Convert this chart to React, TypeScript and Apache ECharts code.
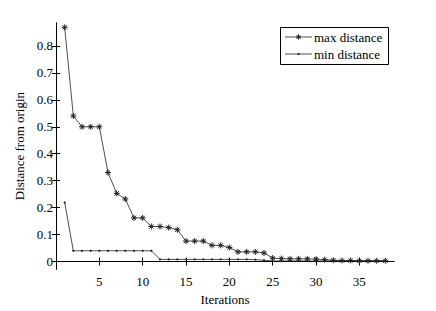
import React, { useEffect, useRef } from "react";
import * as echarts from "echarts";

const iterations = Array.from({ length: 38 }, (_, i) => i + 1);
const maxDistance = [
  0.869, 0.54, 0.5, 0.5, 0.5, 0.33, 0.253, 0.232, 0.162, 0.162,
  0.13, 0.13, 0.126, 0.118, 0.076, 0.076, 0.076, 0.06, 0.06, 0.052,
  0.036, 0.036, 0.036, 0.032, 0.013, 0.011, 0.01, 0.01, 0.01, 0.009,
  0.007, 0.005, 0.004, 0.004, 0.003, 0.003, 0.003, 0.003,
];
const minDistance = [
  0.219, 0.04, 0.04, 0.04, 0.04, 0.04, 0.04, 0.04, 0.04, 0.04,
  0.04, 0.008, 0.008, 0.008, 0.008, 0.008, 0.008, 0.008, 0.008, 0.008,
  0.008, 0.008, 0.007, 0.005, 0.002, 0.002, 0.002, 0.002, 0.002, 0.002,
  0.002, 0.002, 0.002, 0.002, 0.002, 0.002, 0.002, 0.002,
];
const xTicks = [5, 10, 15, 20, 25, 30, 35];
const yTicks = [0, 0.1, 0.2, 0.3, 0.4, 0.5, 0.6, 0.7, 0.8];
const seriesNames = ["max distance", "min distance"];

const FONT = "'Liberation Serif', 'Times New Roman', Times, serif";
const LINE = "#222";
const asterisk =
  "path://M0,-5L0,5M-5,0L5,0M-3.5,-3.5L3.5,3.5M-3.5,3.5L3.5,-3.5";

function legendGraphic() {
  const bx = 280, by = 27, bw = 108, bh = 37;
  const rows = [37, 54];
  const lx0 = 285, lx1 = 312, mx = 298.5;
  const els: any[] = [
    {
      type: "rect",
      shape: { x: bx + 0.5, y: by + 0.5, width: bw, height: bh },
      style: { fill: "#fff", stroke: "#000", lineWidth: 1 },
      z: 100,
    },
  ];
  rows.forEach((y, i) => {
    els.push({
      type: "line",
      shape: { x1: lx0, y1: y, x2: lx1, y2: y },
      style: { stroke: LINE, lineWidth: 0.8 },
      z: 101,
    });
    if (i === 0) {
      const r = 2.6, d = 1.85;
      [
        [0, -r, 0, r],
        [-r, 0, r, 0],
        [-d, -d, d, d],
        [-d, d, d, -d],
      ].forEach(([a, b, c, e]) =>
        els.push({
          type: "line",
          shape: { x1: mx + a, y1: y + b, x2: mx + c, y2: y + e },
          style: { stroke: LINE, lineWidth: 1 },
          z: 102,
        })
      );
    } else {
      els.push({
        type: "circle",
        shape: { cx: mx, cy: y, r: 1.1 },
        style: { fill: LINE },
        z: 102,
      });
    }
    els.push({
      type: "text",
      x: 314,
      y: y,
      style: {
        text: seriesNames[i],
        fontFamily: FONT,
        fontSize: 13,
        fill: "#000",
        verticalAlign: "middle",
        align: "left",
      },
      z: 102,
    });
  });
  return els;
}

export default function App() {
  const ref = useRef<HTMLDivElement>(null);
  useEffect(() => {
    const chart = echarts.init(ref.current!, null, { renderer: "svg" });
    const axisLine = { show: true, lineStyle: { color: "#000", width: 1 } };
    const tick = (vals: number[]) => ({
      show: true,
      inside: true,
      length: 4,
      customValues: vals,
      lineStyle: { color: "#000", width: 1 },
    });
    chart.setOption({
      animation: false,
      backgroundColor: "#fff",
      grid: { left: 56, right: 42, top: 23, bottom: 35, containLabel: false },
      graphic: legendGraphic(),
      xAxis: [
        {
          type: "value",
          min: 0,
          max: 39,
          name: "Iterations",
          nameLocation: "middle",
          nameGap: 17,
          nameTextStyle: { fontFamily: FONT, fontSize: 13, color: "#000" },
          axisLine,
          axisTick: tick(xTicks),
          axisLabel: {
            customValues: xTicks,
            fontFamily: FONT,
            fontSize: 13,
            color: "#000",
            margin: 6,
          },
          splitLine: { show: false },
        },
        {
          type: "value",
          position: "top",
          min: 0,
          max: 39,
          axisLine,
          axisTick: tick(xTicks),
          axisLabel: { show: false },
          splitLine: { show: false },
        },
      ],
      yAxis: [
        {
          type: "value",
          min: -0.028,
          max: 0.885,
          name: "Distance from origin",
          nameLocation: "middle",
          nameGap: 23,
          nameTextStyle: { fontFamily: FONT, fontSize: 13, color: "#000" },
          axisLine,
          axisTick: tick(yTicks),
          axisLabel: {
            customValues: yTicks,
            fontFamily: FONT,
            fontSize: 13,
            color: "#000",
            margin: 3,
            formatter: (v: number) => String(Number(v.toFixed(1))),
          },
          splitLine: { show: false },
        },
        {
          type: "value",
          position: "right",
          min: -0.028,
          max: 0.885,
          axisLine,
          axisTick: tick(yTicks),
          axisLabel: { show: false },
          splitLine: { show: false },
        },
      ],
      series: [
        {
          name: seriesNames[0],
          type: "line",
          data: iterations.map((x, i) => [x, maxDistance[i]]),
          symbol: asterisk,
          symbolSize: 6,
          showAllSymbol: true,
          lineStyle: { color: LINE, width: 0.8 },
          itemStyle: { color: "transparent", borderColor: LINE, borderWidth: 1 },
        },
        {
          name: seriesNames[1],
          type: "line",
          data: iterations.map((x, i) => [x, minDistance[i]]),
          symbol: "circle",
          symbolSize: 2.2,
          showAllSymbol: true,
          lineStyle: { color: LINE, width: 0.8 },
          itemStyle: { color: LINE, borderWidth: 0 },
        },
      ],
    });
    return () => chart.dispose();
  }, []);
  return <div ref={ref} style={{ width: 436, height: 311, position: "absolute", left: 0, top: 0 }} />;
}
